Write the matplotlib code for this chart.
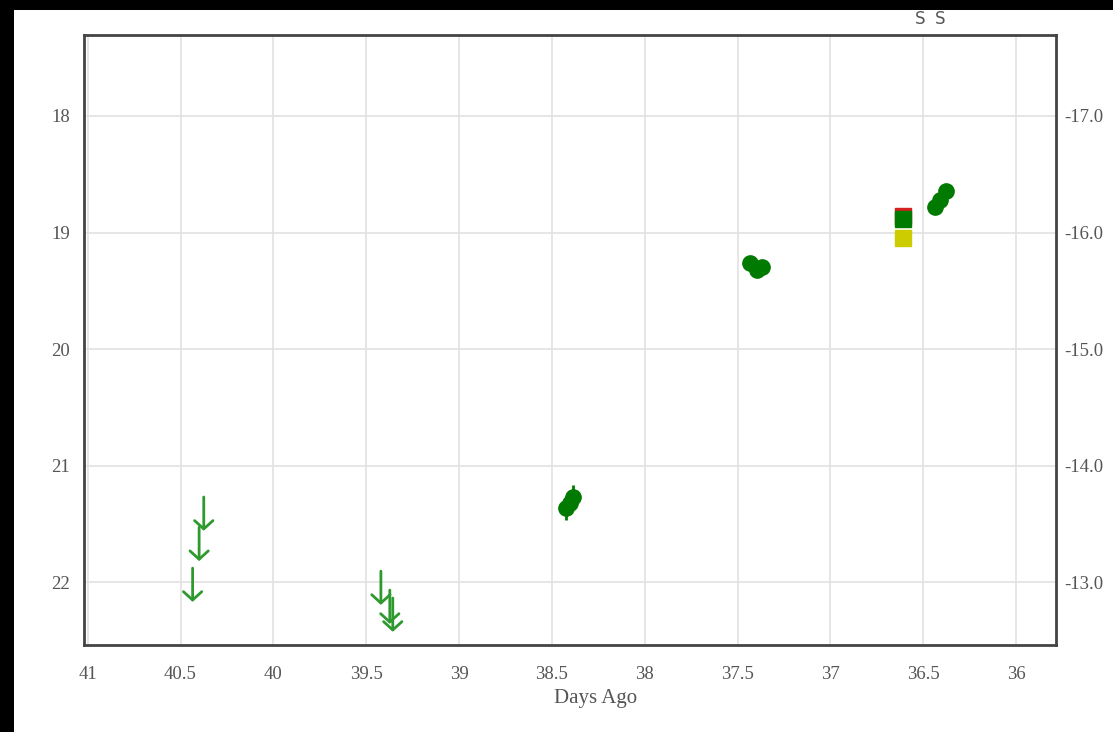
import matplotlib
matplotlib.use("Agg")
import matplotlib.pyplot as plt
from matplotlib import ticker
from matplotlib.patches import Rectangle

plt.rcParams['font.family'] = ['Liberation Serif', 'DejaVu Serif']

# upper limits (arrows), days ago / apparent magnitude
lim_days = [40.375, 40.40, 40.435, 39.421, 39.373, 39.357]
lim_mag = [21.27, 21.53, 21.88, 21.906, 22.069, 22.137]

# green detections
det_days = [38.387, 38.405, 38.425, 37.433, 37.396, 37.369, 36.436, 36.409, 36.377]
det_mag = [21.27, 21.32, 21.365, 19.262, 19.322, 19.296, 18.781, 18.721, 18.644]
det_err = [0.10, 0.09, 0.10, 0.03, 0.03, 0.03, 0.03, 0.03, 0.03]

# square markers at one epoch
sq_days = [36.609, 36.609, 36.609]
sq_mag = [18.858, 19.047, 18.884]
sq_colors = ['#d62020', '#cccc00', '#007a00']

# spectra epochs
spec_days = [36.517, 36.409]

dist_mod = 35.0
x_ticks = [41, 40.5, 40, 39.5, 39, 38.5, 38, 37.5, 37, 36.5, 36]
y_ticks = [18, 19, 20, 21, 22]

gray = '#555555'
fig = plt.figure(figsize=(11.13, 7.32), dpi=100, facecolor='black')
fig.patches.append(Rectangle((14 / 1113, 0), 1, 722 / 732, transform=fig.transFigure,
                             facecolor='white', edgecolor='none', zorder=-10))

ax = fig.add_axes([84 / 1113, 87 / 732, 972 / 1113, 610 / 732])
ax.set_xlim(41.02, 35.785)
ax.set_ylim(22.54, 17.305)

ax.set_xticks(x_ticks)
ax.set_xticklabels(['41', '40.5', '40', '39.5', '39', '38.5', '38', '37.5', '37', '36.5', '36'])
ax.set_yticks(y_ticks)
ax.grid(True, color='#e2e2e2', linewidth=1.2)
ax.set_axisbelow(True)
ax.tick_params(length=0, labelsize=13.5, labelcolor=gray, pad=10)
ax.tick_params(axis='x', pad=15)
for s in ax.spines.values():
    s.set_color('#444444')
    s.set_linewidth(2)
ax.set_xlabel('Days Ago', fontsize=15, color=gray)
ax.xaxis.set_label_coords((596 - 84) / 972, -0.072)

# upper limit arrows
for d, m in zip(lim_days, lim_mag):
    ax.annotate('', xy=(d, m + 0.29), xytext=(d, m),
                arrowprops=dict(arrowstyle='->, head_width=0.22, head_length=0.2',
                                color='#2e9a2e', lw=2, mutation_scale=30,
                                shrinkA=0, shrinkB=0))

ax.errorbar(det_days, det_mag, yerr=det_err, fmt='o', color='#007a00',
            ms=11, elinewidth=2, capsize=0, zorder=3)

for d, m, c in zip(sq_days, sq_mag, sq_colors):
    ax.plot(d, m, 's', color=c, ms=12, zorder=4)

for d in spec_days:
    ax.text(d, 17.245, 'S', color=gray, fontsize=12, ha='center', va='bottom',
            family='DejaVu Sans')

# absolute magnitude on the right
ax2 = ax.twinx()
ax2.set_ylim(22.54 - dist_mod, 17.305 - dist_mod)
ax2.yaxis.set_major_locator(ticker.MultipleLocator(1))
ax2.yaxis.set_major_formatter(ticker.FormatStrFormatter('%.1f'))
ax2.tick_params(length=0, labelsize=13.5, labelcolor=gray, pad=6)
for s in ax2.spines.values():
    s.set_visible(False)

fig.savefig('out.png', dpi=100, facecolor='black')
